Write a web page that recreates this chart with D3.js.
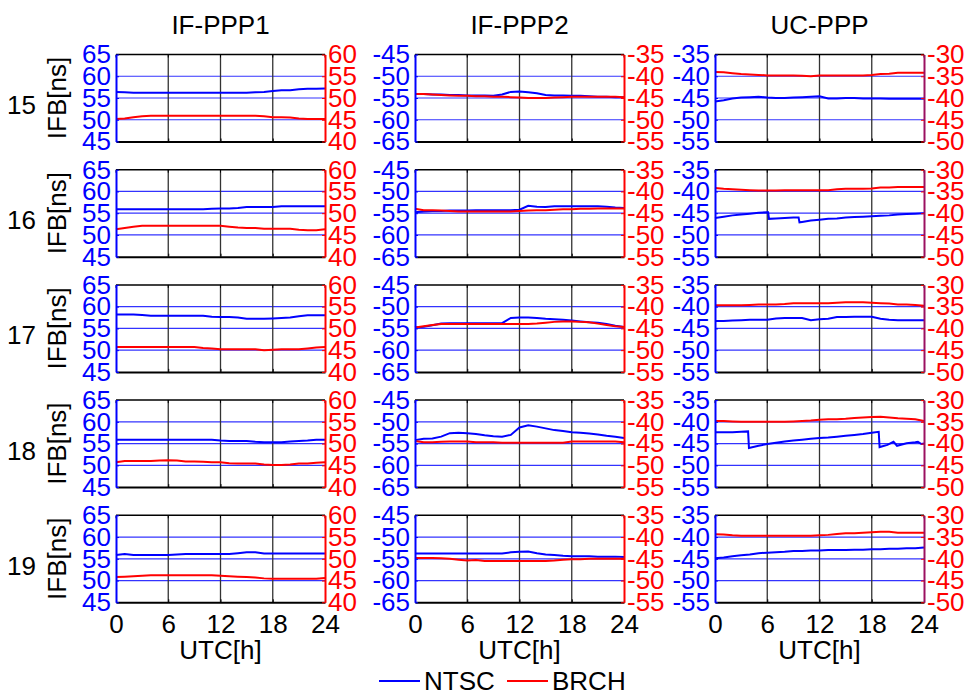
<!DOCTYPE html>
<html>
<head>
<meta charset="utf-8">
<script src="https://cdn.jsdelivr.net/npm/d3@7"></script>
<style>
  body { margin: 0; background: #fff; }
  svg { display: block; font-family: Arial, "Liberation Sans", sans-serif; }
</style>
</head>
<body>
<div id="chart"></div>
<script>
// ---- data ----
const days = ["15", "16", "17", "18", "19"]
const methods = ["IF-PPP1", "IF-PPP2", "UC-PPP"]
const xTicks = [0, 6, 12, 18, 24]
const ntscTicks = [[45, 50, 55, 60, 65], [-65, -60, -55, -50, -45], [-55, -50, -45, -40, -35]]
const brchTicks = [[40, 45, 50, 55, 60], [-55, -50, -45, -40, -35], [-50, -45, -40, -35, -30]]

const hours = [0,1,2,3,4,5,6,7,8,9,10,11,12,13,14,15,16,17,18,19,20,21,22,23,24]
// the UC-PPP NTSC series on day 16 and 18 have jumps, so they get their own epochs
const hours16uc = [0,1,2,3,4,5,6,6.1,6.2,7,8,9,9.6,9.7,10,11,12,13,14,15,16,17,18,19,20,21,22,23,24]
const hours18uc = [0,1,2,3,3.8,3.9,5,6,7,8,9,10,11,12,13,14,15,16,17,18,18.8,18.9,19.8,20.5,20.9,22,23,23.3,23.7,24]

// day 15
const ntsc15if1 = [56.4,56.3,56.2,56.2,56.2,56.2,56.2,56.2,56.2,56.2,56.2,56.2,56.2,56.2,56.2,56.2,56.3,56.4,56.6,56.8,56.8,57.0,57.1,57.1,57.2]
const brch15if1 = [45.2,45.3,45.6,45.8,45.9,45.9,45.9,45.9,45.9,45.9,45.9,45.9,45.9,45.9,45.9,45.9,45.9,45.8,45.6,45.6,45.5,45.3,45.2,45.2,45.2]
const ntsc15if2 = [-54.1,-54.1,-54.2,-54.2,-54.3,-54.3,-54.4,-54.4,-54.4,-54.5,-54.2,-53.6,-53.5,-53.7,-53.9,-54.3,-54.4,-54.4,-54.5,-54.5,-54.6,-54.7,-54.7,-54.8,-54.8]
const brch15if2 = [-44.1,-44.1,-44.2,-44.3,-44.4,-44.5,-44.5,-44.6,-44.6,-44.7,-44.7,-44.8,-44.9,-45.0,-45.0,-45.0,-44.9,-44.8,-44.7,-44.7,-44.7,-44.7,-44.7,-44.7,-44.8]
const ntsc15uc = [-45.8,-45.5,-45.1,-44.9,-44.8,-44.7,-44.9,-45.0,-45.0,-44.9,-44.8,-44.7,-44.6,-45.1,-45.1,-45.0,-45.0,-45.1,-45.1,-45.1,-45.2,-45.2,-45.2,-45.2,-45.2]
const brch15uc = [-34.0,-34.1,-34.3,-34.5,-34.6,-34.7,-34.8,-34.8,-34.8,-34.8,-34.9,-35.0,-34.8,-34.8,-34.8,-34.8,-34.8,-34.8,-34.7,-34.5,-34.4,-34.2,-34.2,-34.2,-34.2]

// day 16
const ntsc16if1 = [55.9,55.9,55.9,55.9,55.9,55.9,55.9,55.9,55.9,55.9,55.9,56.0,56.1,56.1,56.2,56.4,56.4,56.4,56.4,56.6,56.6,56.6,56.6,56.6,56.6]
const brch16if1 = [46.3,46.6,46.9,47.1,47.1,47.1,47.1,47.1,47.1,47.1,47.1,47.1,47.1,46.9,46.7,46.6,46.6,46.4,46.4,46.4,46.4,46.2,46.1,46.1,46.3]
const ntsc16if2 = [-54.8,-54.6,-54.5,-54.5,-54.4,-54.4,-54.4,-54.3,-54.3,-54.3,-54.3,-54.3,-54.2,-53.3,-53.5,-53.6,-53.4,-53.4,-53.4,-53.4,-53.4,-53.4,-53.5,-53.7,-53.8]
const brch16if2 = [-44.0,-44.3,-44.3,-44.4,-44.5,-44.6,-44.6,-44.6,-44.6,-44.6,-44.6,-44.6,-44.5,-44.4,-44.3,-44.3,-44.2,-44.1,-44.1,-44.0,-44.0,-43.9,-43.9,-43.9,-43.9]
const ntsc16uc = [-46.1,-45.8,-45.5,-45.3,-45.1,-44.9,-44.8,-44.8,-46.3,-46.2,-46.1,-46.0,-46.0,-47.1,-47.0,-46.7,-46.5,-46.3,-46.2,-46.0,-45.9,-45.8,-45.7,-45.6,-45.5,-45.3,-45.2,-45.1,-45.0]
const brch16uc = [-34.2,-34.4,-34.5,-34.6,-34.7,-34.8,-34.8,-34.8,-34.7,-34.7,-34.7,-34.7,-34.7,-34.7,-34.5,-34.4,-34.4,-34.4,-34.3,-34.1,-34.1,-34.0,-34.0,-34.0,-34.0]

// day 17
const ntsc17if1 = [58.2,58.2,58.2,58.1,57.9,57.9,57.9,57.9,57.9,57.9,57.9,57.7,57.6,57.6,57.5,57.2,57.2,57.2,57.3,57.4,57.5,57.8,58.0,58.0,58.0]
const brch17if1 = [45.7,45.7,45.7,45.7,45.7,45.7,45.7,45.7,45.7,45.7,45.5,45.4,45.2,45.2,45.2,45.2,45.2,45.0,45.1,45.2,45.2,45.2,45.4,45.6,45.7]
const ntsc17if2 = [-54.8,-54.6,-54.3,-53.9,-53.8,-53.8,-53.8,-53.8,-53.8,-53.8,-53.8,-52.6,-52.5,-52.5,-52.6,-52.8,-52.9,-53.0,-53.2,-53.4,-53.6,-53.7,-54.0,-54.4,-54.7]
const brch17if2 = [-44.8,-44.5,-44.2,-44.0,-44.0,-44.0,-44.0,-44.0,-44.0,-44.0,-44.0,-44.0,-44.0,-44.0,-43.9,-43.7,-43.5,-43.4,-43.4,-43.5,-43.6,-43.9,-44.2,-44.5,-44.7]
const ntsc17uc = [-43.3,-43.3,-43.2,-43.1,-43.0,-43.0,-43.0,-42.7,-42.6,-42.6,-42.6,-43.1,-42.9,-42.8,-42.4,-42.4,-42.3,-42.3,-42.3,-42.8,-43.0,-43.1,-43.1,-43.1,-43.1]
const brch17uc = [-34.7,-34.7,-34.7,-34.7,-34.6,-34.5,-34.5,-34.5,-34.4,-34.2,-34.2,-34.2,-34.2,-34.2,-34.1,-34.0,-34.0,-34.0,-34.1,-34.2,-34.3,-34.5,-34.5,-34.6,-34.8]

// day 18
const ntsc18if1 = [55.9,55.9,55.9,55.9,55.9,55.9,55.9,55.9,55.9,55.9,55.9,55.9,55.7,55.6,55.6,55.6,55.4,55.3,55.3,55.3,55.5,55.6,55.7,55.9,55.9]
const brch18if1 = [45.7,46.0,46.0,46.0,46.0,46.1,46.2,46.1,45.9,45.9,45.8,45.7,45.7,45.5,45.4,45.4,45.4,45.2,45.1,45.1,45.2,45.4,45.4,45.6,45.7]
const ntsc18if2 = [-54.2,-53.9,-53.8,-53.4,-52.6,-52.5,-52.6,-52.8,-53.1,-53.3,-53.4,-53.0,-51.3,-50.8,-51.1,-51.5,-51.9,-52.1,-52.4,-52.5,-52.7,-52.9,-53.2,-53.4,-53.7]
const brch18if2 = [-44.4,-44.7,-44.7,-44.6,-44.5,-44.5,-44.5,-44.7,-44.7,-44.7,-44.8,-44.8,-44.8,-44.8,-44.8,-44.8,-44.8,-44.8,-44.5,-44.5,-44.5,-44.5,-44.5,-44.5,-44.7]
const ntsc18uc = [-42.4,-42.4,-42.4,-42.3,-42.2,-46.0,-45.5,-45.1,-44.8,-44.5,-44.3,-44.1,-43.9,-43.7,-43.6,-43.4,-43.2,-43.0,-42.8,-42.5,-42.3,-45.8,-45.3,-44.6,-45.5,-44.9,-44.7,-44.6,-45.1,-45.0]
const brch18uc = [-34.8,-34.8,-34.9,-35.0,-35.0,-35.0,-35.0,-35.0,-35.0,-34.9,-34.8,-34.7,-34.5,-34.4,-34.4,-34.3,-34.1,-34.0,-33.9,-33.8,-34.0,-34.2,-34.3,-34.4,-34.8]

// day 19
const ntsc19if1 = [55.85,56.1,55.9,55.9,55.9,55.9,55.9,56.0,56.1,56.1,56.1,56.1,56.1,56.1,56.3,56.5,56.5,56.2,56.2,56.2,56.2,56.2,56.2,56.2,56.2]
const brch19if1 = [45.8,45.9,46.0,46.1,46.2,46.2,46.2,46.2,46.2,46.2,46.2,46.2,46.1,46.0,45.9,45.8,45.7,45.5,45.4,45.4,45.4,45.4,45.4,45.4,45.6]
const ntsc19if2 = [-53.8,-53.8,-53.8,-53.8,-53.8,-53.8,-53.8,-53.8,-53.8,-53.8,-53.8,-53.5,-53.4,-53.3,-53.7,-54.0,-54.1,-54.3,-54.4,-54.4,-54.4,-54.5,-54.5,-54.5,-54.6]
const brch19if2 = [-44.8,-44.8,-44.8,-44.9,-45.0,-45.2,-45.4,-45.3,-45.5,-45.5,-45.5,-45.5,-45.5,-45.5,-45.5,-45.5,-45.4,-45.2,-45.1,-45.1,-45.0,-45.0,-45.0,-45.0,-45.0]
const ntsc19uc = [-44.9,-44.7,-44.4,-44.2,-44.0,-43.7,-43.6,-43.5,-43.4,-43.2,-43.2,-43.1,-43.1,-43.0,-43.0,-43.0,-42.9,-42.9,-42.8,-42.8,-42.7,-42.7,-42.6,-42.6,-42.4]
const brch19uc = [-34.35,-34.4,-34.6,-34.7,-34.7,-34.7,-34.7,-34.7,-34.7,-34.7,-34.7,-34.7,-34.6,-34.5,-34.3,-34.1,-34.1,-34.0,-33.9,-33.8,-33.8,-34.0,-34.0,-34.0,-34.0]

// grid of series [row][col]
const ntscGrid = [
  [ntsc15if1, ntsc15if2, ntsc15uc],
  [ntsc16if1, ntsc16if2, ntsc16uc],
  [ntsc17if1, ntsc17if2, ntsc17uc],
  [ntsc18if1, ntsc18if2, ntsc18uc],
  [ntsc19if1, ntsc19if2, ntsc19uc]
]
const brchGrid = [
  [brch15if1, brch15if2, brch15uc],
  [brch16if1, brch16if2, brch16uc],
  [brch17if1, brch17if2, brch17uc],
  [brch18if1, brch18if2, brch18uc],
  [brch19if1, brch19if2, brch19uc]
]
// epochs for the NTSC series that don't use the hourly ones
const ntscHours = {"1-2": hours16uc, "3-2": hours18uc}

// ---- layout ----
const width = 966, height = 695
const colX = [116, 415, 715]
const panelW = 209
const rowY0 = 54.5, rowStep = 115.2, panelH = 87
const fontSize = 26
const blue = "#0000ff", red = "#ff0000"

let svg = d3.select("#chart")
  .append("svg")
  .attr("width", width)
  .attr("height", height)

// column titles
svg.selectAll(".title")
  .data(methods)
  .enter().append("text")
  .attr("class", "title")
  .attr("x", (d, i) => colX[i] + panelW / 2)
  .attr("y", 34)
  .attr("text-anchor", "middle")
  .style("font-size", fontSize + "px")
  .text(d => d)

days.forEach(function(day, r) {
  const top = rowY0 + r * rowStep
  const bottom = top + panelH

  // row label and y label
  svg.append("text")
    .attr("x", 7)
    .attr("y", top + panelH / 2 + 16)
    .style("font-size", fontSize + "px")
    .text(day)

  svg.append("text")
    .attr("transform", "translate(66," + (top + panelH / 2) + ") rotate(-90)")
    .attr("text-anchor", "middle")
    .style("font-size", fontSize + "px")
    .text("IFB[ns]")

  methods.forEach(function(m, c) {
    const left = colX[c], right = left + panelW
    let x = d3.scaleLinear().domain([0, 24]).range([left, right])
    let yL = d3.scaleLinear().domain(d3.extent(ntscTicks[c])).range([bottom, top])
    let yR = d3.scaleLinear().domain(d3.extent(brchTicks[c])).range([bottom, top])

    let g = svg.append("g")

    g.append("rect")
      .attr("x", left).attr("y", top)
      .attr("width", panelW).attr("height", panelH)
      .attr("fill", "#fff")

    // horizontal grid (blue, from the NTSC axis)
    g.selectAll(".hgrid")
      .data(ntscTicks[c].slice(1, -1))
      .enter().append("line")
      .attr("x1", left).attr("x2", right)
      .attr("y1", d => yL(d)).attr("y2", d => yL(d))
      .attr("stroke", blue)
      .attr("stroke-opacity", 0.8)
      .attr("stroke-width", 1.2)

    // vertical grid
    g.selectAll(".vgrid")
      .data(xTicks.slice(1, -1))
      .enter().append("line")
      .attr("x1", d => x(d)).attr("x2", d => x(d))
      .attr("y1", top).attr("y2", bottom)
      .attr("stroke", "#333")
      .attr("stroke-width", 1.3)

    // data lines
    const tN = ntscHours[r + "-" + c] || hours
    let lineN = d3.line().x((d, i) => x(tN[i])).y(d => yL(d))
    let lineB = d3.line().x((d, i) => x(hours[i])).y(d => yR(d))

    g.append("path")
      .attr("d", lineN(ntscGrid[r][c]))
      .attr("fill", "none")
      .attr("stroke", blue)
      .attr("stroke-width", 2)

    g.append("path")
      .attr("d", lineB(brchGrid[r][c]))
      .attr("fill", "none")
      .attr("stroke", red)
      .attr("stroke-width", 2)

    // top frame with inward ticks
    g.append("line")
      .attr("x1", left).attr("x2", right)
      .attr("y1", top).attr("y2", top)
      .attr("stroke", "#000").attr("stroke-width", 1.5)
    g.selectAll(".ttick")
      .data(xTicks)
      .enter().append("line")
      .attr("x1", d => x(d)).attr("x2", d => x(d))
      .attr("y1", top).attr("y2", top + 3)
      .attr("stroke", "#000").attr("stroke-width", 1)

    // bottom axis (labels on the last row only)
    let xAxis = d3.axisBottom(x)
      .tickValues(xTicks)
      .tickSize(-3)
      .tickSizeOuter(0)
      .tickPadding(12)
      .tickFormat(r === days.length - 1 ? (d => String(d)) : "")
    let gx = g.append("g")
      .attr("transform", "translate(0," + bottom + ")")
      .call(xAxis)
    gx.select(".domain").attr("stroke", "#000").attr("stroke-width", 2)
    gx.selectAll(".tick line").attr("stroke", "#000")
    gx.selectAll("text")
      .attr("fill", "#000")
      .style("font-size", fontSize + "px")
      .style("font-family", "Arial, 'Liberation Sans', sans-serif")

    // left axis (NTSC)
    let gl = g.append("g")
      .attr("transform", "translate(" + left + ",0)")
      .call(d3.axisLeft(yL).tickValues(ntscTicks[c]).tickSize(-3).tickSizeOuter(0)
        .tickPadding(5).tickFormat(d => String(d)))
    gl.select(".domain").attr("stroke", blue).attr("stroke-width", 2)
    gl.selectAll(".tick line").attr("stroke", blue)
    gl.selectAll("text")
      .attr("fill", blue)
      .style("font-size", fontSize + "px")
      .style("font-family", "Arial, 'Liberation Sans', sans-serif")

    // right axis (BRCH)
    const rightColor = c === 2 ? "#9b1060" : red
    let gr = g.append("g")
      .attr("transform", "translate(" + right + ",0)")
      .call(d3.axisRight(yR).tickValues(brchTicks[c]).tickSize(-3).tickSizeOuter(0)
        .tickPadding(3).tickFormat(d => String(d)))
    gr.select(".domain").attr("stroke", rightColor).attr("stroke-width", 2)
    gr.selectAll(".tick line").attr("stroke", red)
    gr.selectAll("text")
      .attr("fill", red)
      .style("font-size", fontSize + "px")
      .style("font-family", "Arial, 'Liberation Sans', sans-serif")

    // x label under the last row
    if (r === days.length - 1) {
      svg.append("text")
        .attr("x", left + panelW / 2)
        .attr("y", 659)
        .attr("text-anchor", "middle")
        .style("font-size", fontSize + "px")
        .text("UTC[h]")
    }
  })
})

// legend
const legendItems = [
  {name: "NTSC", color: blue, x: 379},
  {name: "BRCH", color: red, x: 507}
]
let legend = svg.selectAll(".legend")
  .data(legendItems)
  .enter().append("g")
  .attr("class", "legend")
  .attr("transform", d => "translate(" + d.x + ",681)")

legend.append("line")
  .attr("x1", 0).attr("x2", 41)
  .attr("y1", 0).attr("y2", 0)
  .attr("stroke", d => d.color)
  .attr("stroke-width", 2)

legend.append("text")
  .attr("x", 45)
  .attr("y", 8.5)
  .style("font-size", fontSize + "px")
  .text(d => d.name)
</script>
</body>
</html>
